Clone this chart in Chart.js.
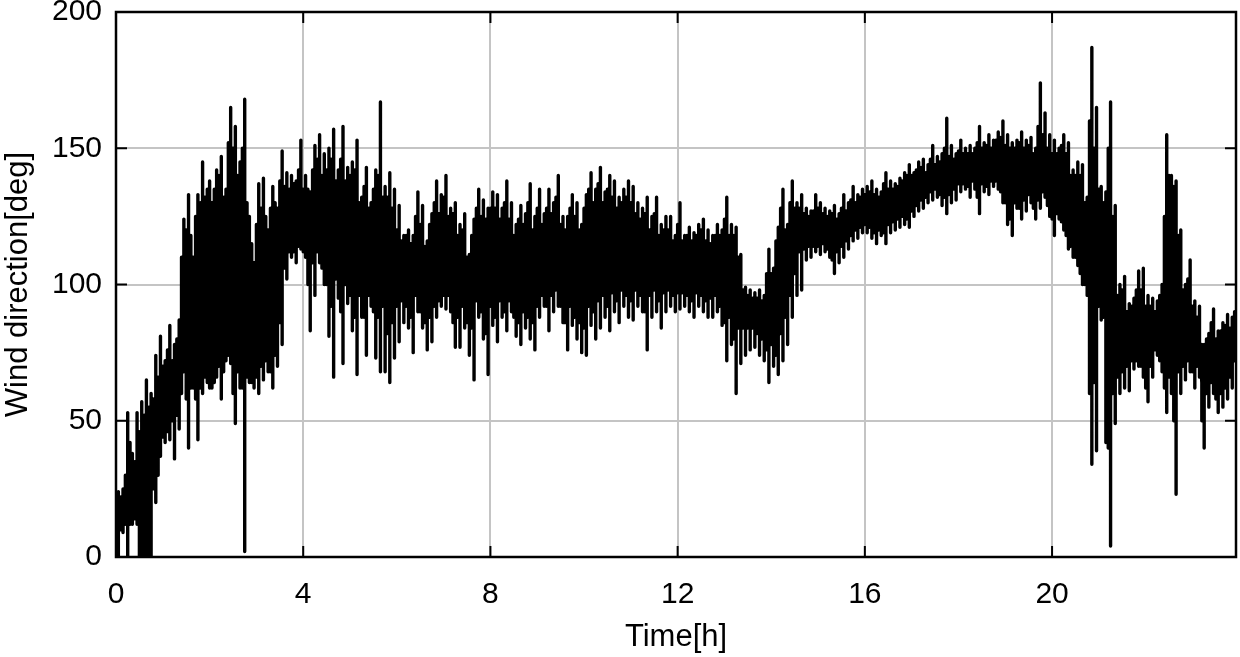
<!DOCTYPE html>
<html>
<head>
<meta charset="utf-8">
<title>Wind direction</title>
<script src="https://cdn.jsdelivr.net/npm/chart.js@4/dist/chart.umd.js"></script>
<style>
  html, body { margin: 0; padding: 0; background: #fff; }
  canvas { display: block; }
</style>
</head>
<body>
<canvas id="windChart" width="1240" height="657"></canvas>
<script>
// one pair per 0.1 h: tips of the trace in that slot
const windLow = [
  0, 9, 0, 12, 12, 0, 0, 0, 20, 37,
  42, 43, 36, 47, 68, 40, 62, 43, 60, 64,
  62, 66, 58, 72, 71, 49, 62, 2, 64, 62,
  60, 65, 68, 62, 70, 78, 102, 110, 108, 113,
  110, 83, 96, 108, 100, 81, 66, 95, 71, 93,
  83, 67, 88, 74, 92, 73, 68, 68, 64, 73,
  79, 86, 84, 75, 90, 84, 76, 79, 88, 92,
  91, 90, 77, 77, 84, 74, 65, 88, 80, 67,
  85, 79, 88, 83, 90, 81, 78, 84, 80, 76,
  88, 92, 83, 90, 92, 86, 76, 85, 80, 75,
  74, 85, 80, 84, 88, 83, 90, 86, 92, 88,
  87, 92, 90, 76, 88, 90, 84, 90, 92, 90,
  91, 92, 90, 88, 92, 90, 88, 88, 90, 85,
  72, 78, 60, 71, 74, 76, 77, 74, 72, 64,
  70, 67, 72, 78, 88, 96, 98, 109, 110, 112,
  111, 112, 110, 104, 108, 110, 113, 116, 117, 119,
  119, 117, 115, 118, 115, 119, 120, 121, 122, 121,
  125, 127, 128, 130, 131, 132, 129, 126, 130, 131,
  134, 135, 132, 135, 126, 134, 133, 136, 135, 130,
  122, 118, 128, 124, 127, 130, 124, 128, 132, 125,
  118, 124, 120, 113, 110, 107, 100, 96, 34, 39,
  87, 42, 4, 49, 60, 62, 61, 69, 70, 66,
  57, 66, 74, 68, 53, 60, 23, 60, 65, 68,
  62, 66, 40, 55, 60, 53, 55, 58, 62, 70
];
const windHigh = [
  24, 25, 53, 38, 53, 57, 65, 60, 74, 81,
  72, 85, 78, 87, 124, 133, 110, 133, 145, 135,
  130, 142, 147, 135, 165, 158, 145, 168, 125, 108,
  137, 139, 120, 136, 128, 149, 141, 140, 138, 153,
  140, 134, 151, 155, 148, 150, 157, 142, 158, 143,
  145, 153, 132, 143, 130, 142, 167, 136, 141, 135,
  129, 118, 120, 118, 134, 129, 116, 126, 138, 133,
  140, 128, 130, 122, 126, 111, 124, 135, 131, 128,
  134, 133, 128, 138, 130, 122, 129, 126, 137, 125,
  135, 126, 135, 130, 140, 125, 125, 133, 130, 122,
  133, 141, 135, 143, 134, 140, 138, 132, 135, 138,
  136, 130, 128, 132, 125, 132, 122, 125, 125, 118,
  130, 118, 121, 119, 122, 124, 120, 118, 122, 120,
  132, 122, 121, 111, 99, 98, 97, 98, 96, 113,
  106, 121, 135, 122, 138, 130, 133, 128, 127, 133,
  130, 128, 127, 129, 126, 133, 130, 136, 133, 135,
  136, 138, 135, 134, 141, 138, 137, 139, 141, 144,
  141, 145, 146, 144, 151, 147, 148, 161, 151, 148,
  153, 150, 151, 150, 158, 152, 155, 153, 156, 160,
  155, 152, 153, 156, 153, 154, 150, 174, 163, 155,
  153, 150, 155, 152, 142, 145, 144, 132, 187, 165,
  136, 134, 167, 129, 100, 103, 93, 95, 105, 106,
  96, 95, 94, 100, 155, 140, 138, 120, 100, 109,
  94, 92, 78, 82, 91, 83, 86, 89, 88, 94
];
// the shorter swings between those tips, where the trace prints solid black
const innerLow = [
  10, 12, 12, 14, 0, 0, 0, 25, 30, 44,
  46, 50, 52, 60, 58, 62, 58, 62, 66, 62,
  64, 70, 68, 74, 60, 68, 62, 66, 64, 66,
  70, 72, 68, 74, 86, 106, 112, 112, 114, 112,
  100, 108, 112, 106, 100, 92, 102, 90, 100, 96,
  88, 96, 88, 96, 90, 88, 92, 82, 86, 92,
  94, 92, 88, 96, 90, 86, 88, 92, 94, 96,
  96, 86, 88, 92, 86, 84, 94, 90, 82, 92,
  88, 94, 90, 94, 88, 86, 90, 88, 86, 92,
  96, 92, 96, 98, 92, 86, 92, 88, 86, 84,
  92, 90, 94, 96, 92, 97, 94, 98, 96, 94,
  98, 96, 90, 96, 98, 94, 97, 98, 96, 97,
  97, 96, 94, 97, 96, 94, 95, 96, 92, 86,
  88, 80, 84, 84, 84, 84, 82, 80, 76, 78,
  74, 82, 88, 96, 104, 112, 113, 114, 114, 114,
  115, 113, 109, 112, 114, 116, 118, 120, 121, 122,
  121, 119, 120, 119, 122, 123, 124, 125, 124, 127,
  129, 131, 132, 134, 135, 133, 132, 133, 135, 137,
  137, 136, 138, 132, 137, 136, 138, 138, 134, 130,
  124, 130, 128, 131, 133, 128, 131, 134, 129, 124,
  126, 123, 118, 114, 110, 104, 100, 60, 64, 92,
  88, 40, 60, 66, 68, 70, 72, 72, 70, 62,
  70, 76, 72, 62, 66, 50, 68, 70, 72, 68,
  70, 50, 60, 64, 58, 60, 62, 66, 72, 74
];
const innerHigh = [
  22, 30, 42, 35, 46, 52, 55, 58, 66, 70,
  76, 72, 80, 110, 120, 118, 125, 130, 132, 138,
  135, 140, 132, 152, 150, 140, 150, 130, 115, 122,
  128, 125, 128, 130, 138, 136, 135, 137, 142, 135,
  135, 142, 146, 140, 142, 146, 138, 146, 138, 140,
  142, 130, 136, 128, 135, 140, 132, 132, 128, 120,
  116, 118, 115, 125, 122, 114, 122, 130, 126, 132,
  125, 126, 118, 120, 110, 118, 128, 125, 124, 128,
  128, 124, 130, 124, 118, 124, 122, 130, 120, 128,
  122, 128, 126, 132, 122, 120, 128, 125, 120, 128,
  135, 130, 137, 130, 135, 132, 128, 130, 132, 130,
  126, 124, 126, 120, 126, 118, 120, 120, 116, 122,
  116, 118, 116, 118, 120, 116, 115, 118, 118, 124,
  118, 118, 110, 98, 96, 95, 95, 94, 104, 104,
  116, 128, 120, 130, 128, 128, 126, 125, 127, 128,
  126, 125, 126, 124, 128, 127, 131, 130, 132, 133,
  134, 133, 132, 137, 135, 135, 136, 138, 140, 140,
  142, 143, 141, 146, 144, 145, 150, 147, 146, 149,
  148, 148, 148, 152, 150, 151, 150, 153, 154, 151,
  150, 150, 152, 150, 151, 148, 158, 155, 150, 148,
  148, 151, 148, 140, 140, 140, 130, 160, 150, 135,
  130, 150, 125, 96, 98, 90, 92, 98, 98, 92,
  92, 90, 96, 125, 140, 136, 118, 98, 102, 92,
  88, 78, 80, 86, 80, 83, 85, 84, 90, 92
];
const slotHours = 0.1;
const xTicks = [0, 4, 8, 12, 16, 20];
const yTicks = [0, 50, 100, 150, 200];

// each swing is a vertical stroke, the pen crosses over between them inside the black
const trace = [];
windLow.forEach((lo, i) => {
  const x = (i + 0.5) * slotHours;
  const hi = windHigh[i];
  const mid = (lo + hi) / 2;
  trace.push({ x, y: mid }, { x, y: hi }, { x, y: lo }, { x, y: mid });
  const x2 = (i + 1) * slotHours;
  const mid2 = (innerLow[i] + innerHigh[i]) / 2;
  trace.push({ x: x2, y: mid2 }, { x: x2, y: innerHigh[i] }, { x: x2, y: innerLow[i] }, { x: x2, y: mid2 });
});

// frame and the short inward ticks on all four sides
const framePlugin = {
  id: 'frame',
  afterDatasetsDraw(c) {
    const { ctx, chartArea: a, scales } = c;
    ctx.save();
    ctx.strokeStyle = '#000';
    ctx.lineWidth = 2;
    xTicks.slice(1).forEach((t) => {
      const px = scales.x.getPixelForValue(t);
      ctx.beginPath();
      ctx.moveTo(px, a.bottom);
      ctx.lineTo(px, a.bottom - 11);
      ctx.moveTo(px, a.top);
      ctx.lineTo(px, a.top + 11);
      ctx.stroke();
    });
    yTicks.slice(1, -1).forEach((t) => {
      const py = scales.y.getPixelForValue(t);
      ctx.beginPath();
      ctx.moveTo(a.left, py);
      ctx.lineTo(a.left + 11, py);
      ctx.moveTo(a.right, py);
      ctx.lineTo(a.right - 11, py);
      ctx.stroke();
    });
    ctx.lineWidth = 2.5;
    ctx.strokeRect(a.left, a.top, a.right - a.left, a.bottom - a.top);
    ctx.restore();
  }
};

const tickFont = { family: '"Liberation Sans", Arial, sans-serif', size: 30 };
const titleFont = { family: '"Liberation Sans", Arial, sans-serif', size: 31 };

new Chart(document.getElementById('windChart'), {
  type: 'line',
  data: {
    datasets: [{
      label: 'Wind direction',
      data: trace,
      borderColor: '#000',
      borderWidth: 3.4,
      borderJoinStyle: 'round',
      pointRadius: 0,
      tension: 0
    }]
  },
  options: {
    responsive: false,
    animation: false,
    layout: { autoPadding: false, padding: { top: 12, right: 4, left: 0, bottom: 0 } },
    plugins: { legend: { display: false }, tooltip: { enabled: false } },
    scales: {
      x: {
        type: 'linear',
        min: 0,
        max: 23.93,
        afterFit: (s) => { s.height = 100; s.paddingLeft = 0; s.paddingRight = 0; },
        afterBuildTicks: (s) => { s.ticks = xTicks.map((value) => ({ value })); },
        grid: { color: '#c4c4c4', lineWidth: 2, drawTicks: false },
        border: { display: false },
        ticks: { color: '#000', font: tickFont, padding: 20, maxRotation: 0, autoSkip: false },
        title: {
          display: true,
          text: 'Time[h]',
          color: '#000',
          font: titleFont,
          padding: { top: 0, bottom: 1 }
        }
      },
      y: {
        min: 0,
        max: 200,
        afterFit: (s) => { s.width = 116; s.paddingTop = 0; s.paddingBottom = 0; },
        afterBuildTicks: (s) => { s.ticks = yTicks.map((value) => ({ value })); },
        grid: { color: '#c4c4c4', lineWidth: 2, drawTicks: false },
        border: { display: false },
        ticks: { color: '#000', font: tickFont, padding: 14 },
        title: {
          display: true,
          text: 'Wind direction[deg]',
          color: '#000',
          font: titleFont,
          padding: { top: 0, bottom: 0 }
        }
      }
    }
  },
  plugins: [framePlugin]
});
</script>
</body>
</html>
